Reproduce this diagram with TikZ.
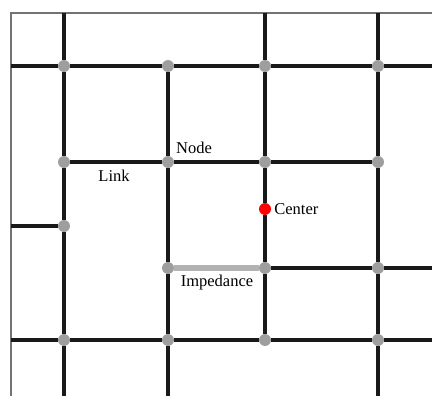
\documentclass[tikz,border=0pt]{standalone}
\usepackage{fontspec}
\setmainfont{Liberation Serif}
\usetikzlibrary{positioning}

\tikzset{
  junction/.style={circle, fill=black!38, inner sep=0pt, minimum size=12pt},
  link/.style={line width=3.2pt, black!90},
  impedance/.style={line width=5pt, black!30},
  frame/.style={line width=1.4pt, black!55},
  lbl/.style={font=\fontsize{16.5}{18}\selectfont, inner sep=1pt}
}

\begin{document}
\begin{tikzpicture}[x=1pt, y=-1pt]
  \useasboundingbox (0,0) rectangle (432,396);

  % outer edge of the network
  \draw[frame] (11,396) -- (11,13) -- (432,13);

  % free ends at the picture edge
  \foreach \nm/\px/\py in {t-a/64/13, t-c/265/13, t-d/378/13,
                           b-a/64/396, b-b/168/396, b-d/378/396,
                           l-1/11/66, l-m/11/226, l-4/11/340,
                           r-1/432/66, r-3/432/268, r-4/432/340}
    \coordinate (\nm) at (\px,\py);

  % junctions
  \foreach \col/\px in {a/64, b/168, c/265, d/378} {
    \foreach \row/\py in {1/66, 2/162, 4/340}
      \node[junction] (n-\col\row) at (\px,\py) {};
  }
  \node[junction] (n-am) at (64,226) {};
  \foreach \col/\px in {b/168, c/265, d/378}
    \node[junction] (n-\col3) at (\px,268) {};
  \node[circle, fill=red, inner sep=0pt, minimum size=12pt] (ctr) at (265,209) {};

  % vertical links
  \draw[link] (t-a) -- (n-a1) -- (n-a2) -- (n-am) -- (n-a4) -- (b-a);
  \draw[link] (n-b1) -- (n-b2) -- (n-b3) -- (n-b4) -- (b-b);
  \draw[link] (t-c) -- (n-c1) -- (n-c2) -- (ctr) -- (n-c3) -- (n-c4);
  \draw[link] (t-d) -- (n-d1) -- (n-d2) -- (n-d3) -- (n-d4) -- (b-d);

  % horizontal links
  \draw[link] (l-1) -- (n-a1) -- (n-b1) -- (n-c1) -- (n-d1) -- (r-1);
  \draw[link] (n-a2) -- (n-b2) -- (n-c2) -- (n-d2);
  \draw[link] (l-m) -- (n-am);
  \draw[impedance] (n-b3) -- (n-c3);
  \draw[link] (n-c3) -- (n-d3) -- (r-3);
  \draw[link] (l-4) -- (n-a4) -- (n-b4) -- (n-c4) -- (n-d4) -- (r-4);

  % labels
  \node[lbl] (node-lbl) at (194,148) {Node};
  \node[lbl] (link-lbl) at (114,176) {Link};
  \node[lbl, right=2pt of ctr] (ctr-lbl) {Center};
  \node[lbl] (imp-lbl) at (217,283) {Impedance};
\end{tikzpicture}
\end{document}
